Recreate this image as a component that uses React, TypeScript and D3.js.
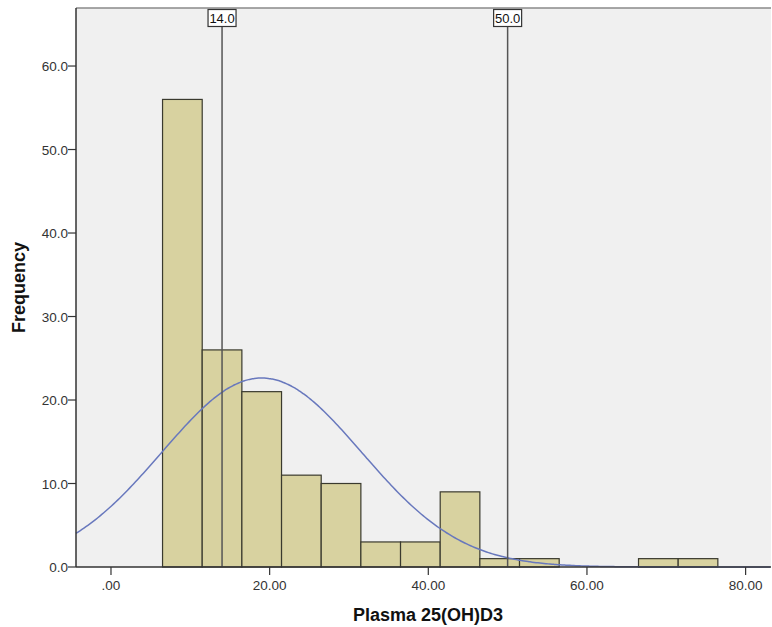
import React from "react";
import * as d3 from "d3";

// Histogram bins (lower edge of each 5-unit bin) and their counts
const binStarts = [6.5, 11.5, 16.5, 21.5, 26.5, 31.5, 36.5, 41.5, 46.5, 51.5, 56.5, 61.5, 66.5, 71.5];
const binCounts = [56, 26, 21, 11, 10, 3, 3, 9, 1, 1, 0, 0, 1, 1];
const binWidth = 5;

// Normal curve parameters
const curveMean = 19.0;
const curveSd = 12.6;
const totalN = 143;

// Reference lines
const refLines = [14.0, 50.0];

// Axis ticks
const xTicks = [0, 20, 40, 60, 80];
const yTicks = [0, 10, 20, 30, 40, 50, 60];

const W = 772;
const H = 627;
const left = 76;
const right = 771;
const top = 8;
const bottom = 567;

export default function App() {
  const x = d3.scaleLinear().domain([-4.41, 83.2]).range([left, right]);
  const y = d3.scaleLinear().domain([0, 66.95]).range([bottom, top]);

  const peak = (totalN * binWidth) / (curveSd * Math.sqrt(2 * Math.PI));
  const curvePts = d3.range(-4.41, 83.2, 0.25).map((v) => {
    const z = (v - curveMean) / curveSd;
    return [v, peak * Math.exp(-0.5 * z * z)] as [number, number];
  });
  const line = d3
    .line<[number, number]>()
    .x((d) => x(d[0]))
    .y((d) => y(d[1]))
    .curve(d3.curveBasis);

  const font = "'Liberation Sans', Arial, sans-serif";

  return (
    <svg
      width={W}
      height={H}
      style={{ position: "absolute", left: 0, top: 0, background: "#fff" }}
      fontFamily={font}
    >
      <rect x={left} y={top} width={right - left} height={bottom - top} fill="#f0f0f0" />
      <line x1={left} x2={right} y1={top} y2={top} stroke="#8a8a8a" strokeWidth={1.5} />

      {binStarts.map((b, i) =>
        binCounts[i] > 0 ? (
          <rect
            key={i}
            x={x(b)}
            y={y(binCounts[i])}
            width={x(b + binWidth) - x(b)}
            height={y(0) - y(binCounts[i])}
            fill="#d8d2a0"
            stroke="#3a3a2e"
            strokeWidth={1.2}
          />
        ) : null
      )}

      <path d={line(curvePts) || ""} fill="none" stroke="#6878bd" strokeWidth={1.5} />

      {refLines.map((r) => (
        <g key={r}>
          <line x1={x(r)} x2={x(r)} y1={27} y2={bottom} stroke="#555" strokeWidth={1.5} />
          <rect x={x(r) - 14} y={9.5} width={28} height={17} fill="#fff" stroke="#333" strokeWidth={1.2} />
          <text x={x(r)} y={23} textAnchor="middle" fontSize={13} fill="#111">
            {r.toFixed(1)}
          </text>
        </g>
      ))}

      {/* axes */}
      <line x1={left} x2={left} y1={top} y2={bottom} stroke="#333" strokeWidth={1.5} />
      <line x1={left} x2={right} y1={bottom} y2={bottom} stroke="#333" strokeWidth={1.5} />

      {yTicks.map((t) => (
        <g key={t}>
          <line x1={left - 8} x2={left} y1={y(t)} y2={y(t)} stroke="#333" strokeWidth={1.2} />
          <text x={left - 8} y={y(t) + 5} textAnchor="end" fontSize={13.5} fill="#333">
            {t.toFixed(1)}
          </text>
        </g>
      ))}

      {xTicks.map((t) => (
        <g key={t}>
          <line x1={x(t)} x2={x(t)} y1={bottom} y2={bottom + 8} stroke="#333" strokeWidth={1.2} />
          <text x={x(t)} y={bottom + 23} textAnchor="middle" fontSize={13.5} fill="#333">
            {t === 0 ? ".00" : t.toFixed(2)}
          </text>
        </g>
      ))}

      <text x={428} y={621} textAnchor="middle" fontSize={18} fontWeight="bold" fill="#111">
        Plasma 25(OH)D3
      </text>
      <text
        transform={`translate(25, ${(top + bottom) / 2}) rotate(-90)`}
        textAnchor="middle"
        fontSize={18}
        fontWeight="bold"
        fill="#111"
      >
        Frequency
      </text>
    </svg>
  );
}
